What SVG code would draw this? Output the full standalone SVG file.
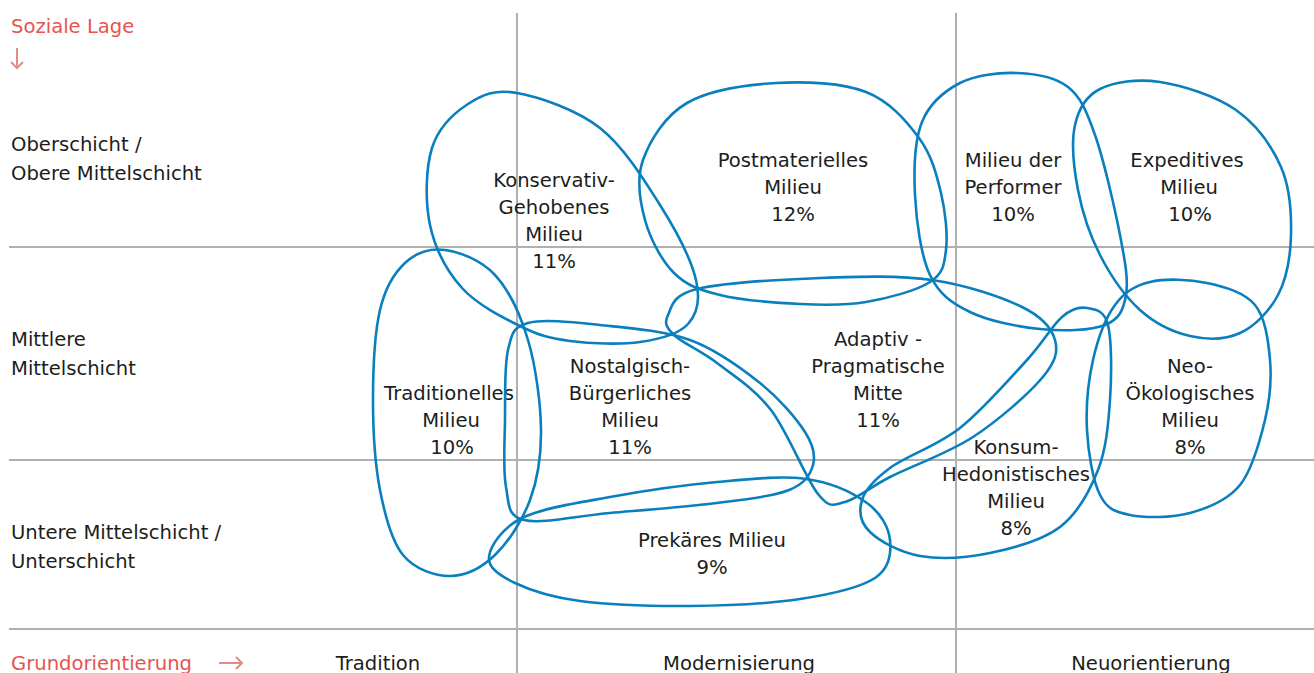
<svg xmlns="http://www.w3.org/2000/svg" width="1314" height="673" viewBox="0 0 1314 673">
<style>
.grid{stroke:#b0b0b0;stroke-width:2;fill:none}
.blob{fill:none;stroke:#0a7fbe;stroke-width:2.6}
text{font-family:"DejaVu Sans","Liberation Sans",sans-serif;font-size:19.6px;fill:#1d1d1b}
.c{text-anchor:middle}
.red{fill:#e5554f}
.arr{stroke:#e58a86;stroke-width:2;fill:none}
</style>
<rect width="1314" height="673" fill="#ffffff"/>
<g id="grid">
<line class="grid" x1="517" y1="13" x2="517" y2="673"/>
<line class="grid" x1="956" y1="13" x2="956" y2="673"/>
<line class="grid" x1="9" y1="247" x2="1314" y2="247"/>
<line class="grid" x1="9" y1="460" x2="1314" y2="460"/>
<line class="grid" x1="9" y1="629" x2="1314" y2="629"/>
</g>
<g id="axes">
<text class="red" x="11" y="33">Soziale Lage</text>
<path class="arr" d="M17,48 V68 M11,62 L17,68 L23,62"/>
<text x="11" y="151">Oberschicht /</text>
<text x="11" y="180">Obere Mittelschicht</text>
<text x="11" y="346">Mittlere</text>
<text x="11" y="375">Mittelschicht</text>
<text x="11" y="539">Untere Mittelschicht /</text>
<text x="11" y="568">Unterschicht</text>
<text class="red" x="11" y="670">Grundorientierung</text>
<path class="arr" d="M219,663 H242 M236,657 L242,663 L236,669"/>
<text class="c" x="378" y="670">Tradition</text>
<text class="c" x="739" y="670">Modernisierung</text>
<text class="c" x="1151" y="670">Neuorientierung</text>
</g>
<g id="konservativ">
<path class="blob" d="M517,93 C539,97 576.2,109.3 600,128 S644,179.7 660,205 S691.3,260.2 696,280 S697.3,313.7 688,324 S659.7,339.2 640,342 S589.7,343.5 570,341 S540,335.8 522,327 S477.3,305 462,288 S435,248.3 430,225 S425.7,168.2 432,148 S453.8,113.2 468,104 S495,89 517,93 Z"/>
<text class="c" x="554" y="187">Konservativ-</text>
<text class="c" x="554" y="214">Gehobenes</text>
<text class="c" x="554" y="241">Milieu</text>
<text class="c" x="554" y="268">11%</text>
</g>
<g id="traditionell">
<path class="blob" d="M445,250 C460,252 481.2,260 495,275 S520.3,314.2 528,340 S540.7,403.3 541,430 S537.7,479.2 530,500 S508.3,542.3 495,555 S465.3,576 450,576 S414.7,569.3 403,555 S385,515.8 380,490 S373,430 373,400 S374.7,332.8 380,310 S394.2,273 405,263 S430,248 445,250 Z"/>
<text class="c" x="449" y="400">Traditionelles</text>
<text class="c" x="451" y="427">Milieu</text>
<text class="c" x="452" y="454">10%</text>
</g>
<g id="nostalgisch">
<path class="blob" d="M528,323 C543.3,318.8 573,322.2 600,325 S663.3,330.3 690,340 S740.8,367.7 760,383 S796.2,418.3 805,432 S815.7,455.3 813,465 S805,483.7 789,490 S746.8,499.2 717,503 S642.2,510.2 610,513 S541.3,524.3 524,520 S509.2,503.7 506,487 S504.7,442.8 505,420 S504.2,366.2 508,350 S512.7,327.2 528,323 Z"/>
<text class="c" x="630" y="373">Nostalgisch-</text>
<text class="c" x="630" y="400">Bürgerliches</text>
<text class="c" x="630" y="427">Milieu</text>
<text class="c" x="630" y="454">11%</text>
</g>
<g id="prekaer">
<path class="blob" d="M489,557 C490.2,546.2 501.8,528 522,518 S577.5,503 610,497 S684.3,485 717,482 S781,475.5 806,479 S853,492.8 867,503 S888.7,527.5 890,540 S890,568.2 875,578 S830.8,594.3 800,599 S726.7,605.7 690,606 S609.2,604.8 580,601 S530.2,590.3 515,583 S487.8,567.8 489,557 Z"/>
<text class="c" x="712" y="547">Prekäres Milieu</text>
<text class="c" x="712" y="574">9%</text>
</g>
<g id="postmateriell">
<path class="blob" d="M776,83 C805.8,81.2 842.2,82.8 866,92 S906.5,121.2 919,138 S936.5,174.3 941,193 S947.8,235.2 946,250 S943.3,273.3 930,282 S887.7,298.3 866,302 S824.3,305.2 800,304 S741,300.2 720,295 S686.5,285.5 674,273 S650.2,238.8 645,220 S636,179.5 643,160 S664.8,115.8 687,103 S746.2,84.8 776,83 Z"/>
<text class="c" x="793" y="167">Postmaterielles</text>
<text class="c" x="793" y="194">Milieu</text>
<text class="c" x="793" y="221">12%</text>
</g>
<g id="adaptiv">
<path class="blob" d="M697,289 C722.5,282.8 781.8,279.5 821,278 S898.5,275.2 932,280 S1001.5,297 1022,307 S1051.7,328.2 1055,340 S1055.7,361.8 1042,378 S998.3,420.5 973,437 S911.3,466.2 890,477 S857,499.2 845,502 S830.3,509.3 818,494 S787.8,431.8 771,410 S733.2,375.5 717,363 S682.2,343 674,335 S664.2,322.7 668,315 S671.5,295.2 697,289 Z"/>
<text class="c" x="878" y="346">Adaptiv -</text>
<text class="c" x="878" y="373">Pragmatische</text>
<text class="c" x="878" y="400">Mitte</text>
<text class="c" x="878" y="427">11%</text>
</g>
<g id="performer">
<path class="blob" d="M1017,73 C1035,73.7 1055,76.7 1068,87 S1086.3,110.3 1095,135 S1114.8,208.3 1120,235 S1128.5,280 1126,295 S1119.3,319.3 1105,325 S1062.5,331.2 1040,329 S988.3,321 970,312 S939.2,294.5 930,275 S916.3,220.5 915,195 S914.5,140.7 922,122 S944.2,91.2 960,83 S999,72.3 1017,73 Z"/>
<text class="c" x="1013" y="167">Milieu der</text>
<text class="c" x="1013" y="194">Performer</text>
<text class="c" x="1013" y="221">10%</text>
</g>
<g id="expeditiv">
<path class="blob" d="M1160,82 C1182.7,85.5 1215.8,95.8 1236,110 S1271.8,146.2 1281,167 S1291.5,213.7 1291,235 S1286.5,278.7 1278,295 S1254.7,326.2 1240,333 S1206.7,339.8 1190,336 S1155,323.5 1140,310 S1110.3,275 1100,255 S1082.2,211.7 1078,190 S1071.3,141.8 1075,125 S1085.8,96.2 1100,89 S1137.3,78.5 1160,82 Z"/>
<text class="c" x="1187" y="167">Expeditives</text>
<text class="c" x="1189" y="194">Milieu</text>
<text class="c" x="1190" y="221">10%</text>
</g>
<g id="neooeko">
<path class="blob" d="M1150,282 C1165.3,278.3 1189.5,279.2 1207,283 S1244.5,292.2 1255,305 S1268.3,340.8 1270,360 S1270,399.2 1265,420 S1252.5,469.5 1240,485 S1208.3,508 1190,513 S1145,518 1130,515 S1107.2,509.2 1100,495 S1088.2,452.5 1087,430 S1088.3,380.8 1093,360 S1105.5,318 1115,305 S1134.7,285.7 1150,282 Z"/>
<text class="c" x="1190" y="373">Neo-</text>
<text class="c" x="1190" y="400">Ökologisches</text>
<text class="c" x="1190" y="427">Milieu</text>
<text class="c" x="1190" y="454">8%</text>
</g>
<g id="konsum">
<path class="blob" d="M1087,308 C1094.7,309.3 1104.2,309.7 1108,325 S1111.7,375.8 1110,400 S1106.3,448.8 1098,470 S1078,513.2 1060,527 S1013.3,548.2 990,553 S940,559.5 920,556 S879.7,541.3 870,532 S858.7,510.7 862,500 S873.7,480 890,468 S937.2,446 960,428 S1010,378.5 1027,360 S1052,325.7 1062,317 S1079.3,306.7 1087,308 Z"/>
<text class="c" x="1016" y="454">Konsum-</text>
<text class="c" x="1016" y="481">Hedonistisches</text>
<text class="c" x="1016" y="508">Milieu</text>
<text class="c" x="1016" y="535">8%</text>
</g>
</svg>
